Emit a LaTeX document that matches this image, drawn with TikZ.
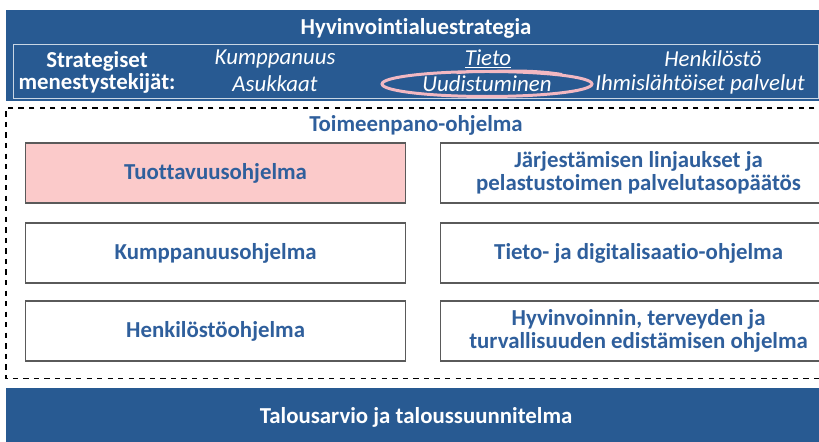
\documentclass[tikz,border=0pt]{standalone}
\usepackage{fontspec}
\setmainfont[Ligatures={NoCommon}]{Carlito}
\usetikzlibrary{positioning}
\usetikzlibrary{shapes.geometric}
\definecolor{banner colour}{HTML}{285A92}
\definecolor{text colour}{HTML}{2F5F9C}
\definecolor{edge colour}{HTML}{5A5A5A}
\definecolor{accent colour}{HTML}{FBCACA}
\definecolor{mark colour}{HTML}{F2B8C2}
\tikzset{
    % Define a set of styles
    % First some fills
    banner fill/.style={fill=banner colour},
    accent fill/.style={fill=accent colour},
    % Then the text
    banner text/.style={text=white, font=\fontsize{13}{12.5}\selectfont\bfseries},
    factor text/.style={text=white, font=\fontsize{13}{12.5}\selectfont\itshape, inner sep=0},
    % We almost always want centre aligned node text
    every node/.style={align=center},
}

\begin{document}
\begin{tikzpicture}[
    x=0.02cm, y=-0.02cm,
    banner/.style={banner fill, draw=none, anchor=north west, minimum width=16.4cm},
    programme/.style={draw=edge colour, line width=0.7pt, fill=white, anchor=west,
        minimum height=1.2cm,
        text=text colour, font=\fontsize{13}{13}\selectfont\bfseries},
    left programme/.style={programme, minimum width=7.6cm},
    right programme/.style={programme, minimum width=7.92cm},
    ]

% This path fixes the extent of the diagram
\useasboundingbox (0,0) rectangle (819,442);
\clip (0,0) rectangle (819,442);

% Strategy banner
\node [banner, minimum height=1.82cm] (strategy) at (6,10) {};
\node [banner text] (strategy title) at (416,28) {Hyvinvointialuestrategia};
\node [draw=white!75!banner colour, line width=0.6pt, anchor=north west,
    minimum width=16.1cm, minimum height=1.08cm] (factors) at (13,44) {};
\node [banner text, inner sep=0] (factors label) at (97,72) {Strategiset\\menestystekijät:};

% Success factors
\node [factor text] (partnership) at (275,59) {Kumppanuus};
\node [factor text] (residents) at (275,84) {Asukkaat};
\node [factor text] (knowledge) at (488,59) {\underline{Tieto}};
\node [factor text] (renewal) at (487,84) {Uudistuminen};
\node [factor text] (staff) at (713,59) {Henkilöstö};
\node [factor text] (services) at (700,84) {Ihmislähtöiset palvelut};

% Pink marking round the renewal factor
\node [draw=mark colour, line width=1.7pt, ellipse, inner sep=0,
    minimum width=4.2cm, minimum height=0.5cm] (renewal mark) at (renewal) {};
\draw [mark colour, line width=1.2pt]
    (knowledge.south west) ++(-8,4) .. controls +(40,-3) and +(-30,-5) .. (renewal mark.north east);

% Implementation programme, open on the right
\node [anchor=north west, minimum width=17cm, minimum height=5.4cm]
    (implementation) at (6,108) {};
\draw [dashed, line width=0.9pt] (implementation.north east) -- (implementation.north west)
    -- (implementation.south west) -- (implementation.south east);
\node [text=text colour, font=\fontsize{13}{13}\selectfont\bfseries]
    (implementation title) at (416,125) {Toimeenpano-ohjelma};

\node [left programme, accent fill] (productivity) at (25,173) {Tuottavuusohjelma};
\node [right programme] (organisation) at (440,173)
    {Järjestämisen linjaukset ja\\pelastustoimen palvelutasopäätös};
\node [left programme] (partnership programme) at (25,253) {Kumppanuusohjelma};
\node [right programme] (digital) at (440,253) {Tieto- ja digitalisaatio-ohjelma};
\node [left programme] (staff programme) at (25,331) {Henkilöstöohjelma};
\node [right programme] (wellbeing) at (440,331)
    {Hyvinvoinnin, terveyden ja\\turvallisuuden edistämisen ohjelma};

% Budget
\node [banner, minimum height=1.3cm] (budget) at (6,388) {};
\node [banner text] (budget title) at (416,417) {Talousarvio ja taloussuunnitelma};

\end{tikzpicture}
\end{document}
